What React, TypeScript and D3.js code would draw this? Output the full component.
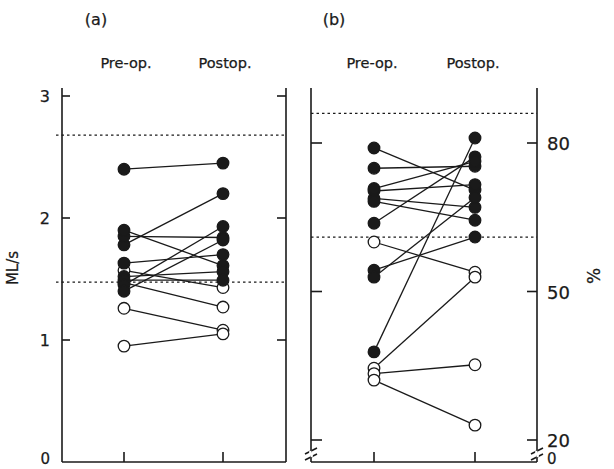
import React from "react";
import * as d3 from "d3";

// groups on the x axis
const phases = ["Pre-op.", "Postop."];

// panel (a): ML/s, [pre, post]
const mlFilled = [
  [2.4, 2.45],
  [1.78, 2.2],
  [1.85, 1.84],
  [1.9, 1.61],
  [1.63, 1.7],
  [1.52, 1.56],
  [1.49, 1.49],
  [1.45, 1.93],
  [1.4, 1.82],
];
const mlOpen = [
  [1.57, 1.43],
  [1.47, 1.27],
  [1.26, 1.08],
  [0.95, 1.05],
];
const mlRefs = [2.68, 1.475];
const mlTicks = [0, 1, 2, 3];

// panel (b): %, [pre, post]
const pctFilled = [
  [79, 70.5],
  [74.9, 75.3],
  [70.3, 71.6],
  [68.8, 67],
  [68.2, 64.4],
  [63.8, 77.2],
  [54.3, 61],
  [52.9, 69],
  [37.8, 81],
  [70.8, 76.3],
];
const pctOpen = [
  [60, 53.9],
  [34.5, 52.9],
  [33.4, 35.2],
  [32.1, 23],
];
const pctRefs = [86, 61];
const pctTicks = [20, 50, 80];

const FONT = "'DejaVu Sans', 'Liberation Sans', sans-serif";
const INK = "#1a1a1a";

const App = () => {
  const top = 88;
  const bottom = 462;

  // panel (a)
  const ax0 = 62, ax1 = 286;
  const xa = d3.scalePoint().domain(phases).range([124, 223]);
  const ya = d3.scaleLinear().domain([0, 3]).range([462, 96]);

  // panel (b)
  const bx0 = 311, bx1 = 537;
  const xb = d3.scalePoint().domain(phases).range([374, 475]);
  const yb = d3.scaleLinear().domain([20, 80]).range([440, 143]);

  const pairs = (data, x, y, filled) =>
    data.map((d, i) => (
      <line
        key={(filled ? "f" : "o") + i}
        x1={x(phases[0])}
        y1={y(d[0])}
        x2={x(phases[1])}
        y2={y(d[1])}
        stroke={INK}
        strokeWidth={1.3}
      />
    ));

  const dots = (data, x, y, filled) =>
    data.flatMap((d, i) =>
      d.map((v, j) => (
        <circle
          key={(filled ? "f" : "o") + i + "-" + j}
          cx={x(phases[j])}
          cy={y(v)}
          r={5.8}
          fill={filled ? INK : "#fff"}
          stroke={INK}
          strokeWidth={1.3}
        />
      ))
    );

  const label = { fill: INK, stroke: INK, strokeWidth: 0.25 };

  return (
    <svg
      width={614}
      height={469}
      style={{ position: "absolute", left: 0, top: 0, background: "#fff" }}
      fontFamily={FONT}
    >
      {/* titles */}
      <text x={96} y={25} fontSize={16} textAnchor="middle" {...label}>(a)</text>
      <text x={334} y={25} fontSize={16} textAnchor="middle" {...label}>(b)</text>
      {phases.map((p) => (
        <text key={"ta" + p} x={xa(p) + 2} y={68} fontSize={14.5} textAnchor="middle" {...label}>
          {p}
        </text>
      ))}
      {phases.map((p) => (
        <text key={"tb" + p} x={xb(p) - 2} y={68} fontSize={14.5} textAnchor="middle" {...label}>
          {p}
        </text>
      ))}

      {/* panel (a) frame */}
      <g stroke={INK} strokeWidth={1.6} fill="none">
        <line x1={ax0} y1={top} x2={ax0} y2={bottom} />
        <line x1={ax1} y1={top} x2={ax1} y2={bottom} />
        <line x1={ax0} y1={bottom} x2={ax1} y2={bottom} />
        {mlTicks.slice(1).map((t) => (
          <g key={"tka" + t}>
            <line x1={ax0} y1={ya(t)} x2={ax0 + 8} y2={ya(t)} />
            <line x1={ax1 - 9} y1={ya(t)} x2={ax1} y2={ya(t)} />
          </g>
        ))}
        {phases.map((p) => (
          <line key={"bta" + p} x1={xa(p)} y1={bottom} x2={xa(p)} y2={bottom - 10} />
        ))}
      </g>
      {mlTicks.map((t) => (
        <text
          key={"la" + t}
          x={ax0 - 12}
          y={Math.min(ya(t) + 6, 464)}
          fontSize={t === 0 ? 15 : 16}
          textAnchor="end"
          {...label}
        >
          {t}
        </text>
      ))}
      <text
        transform={`translate(18,268) rotate(-90)`}
        fontSize={15}
        textAnchor="middle"
        {...label}
      >
        ML/s
      </text>
      {mlRefs.map((r) => (
        <line
          key={"ra" + r}
          x1={ax0 - 6}
          x2={ax1}
          y1={ya(r)}
          y2={ya(r)}
          stroke={INK}
          strokeWidth={1.2}
          strokeDasharray="2.5,3"
        />
      ))}
      {pairs(mlFilled, xa, ya, true)}
      {pairs(mlOpen, xa, ya, false)}
      {dots(mlOpen, xa, ya, false)}
      {dots(mlFilled, xa, ya, true)}

      {/* panel (b) frame */}
      <g stroke={INK} strokeWidth={1.6} fill="none">
        <line x1={bx0} y1={top} x2={bx0} y2={bottom} />
        <line x1={bx1} y1={top} x2={bx1} y2={bottom} />
        <line x1={bx0} y1={bottom} x2={bx1} y2={bottom} />
        {pctTicks.map((t) => (
          <g key={"tkb" + t}>
            <line x1={bx0} y1={yb(t)} x2={bx0 + 11} y2={yb(t)} />
            <line x1={bx1 - 10} y1={yb(t)} x2={bx1} y2={yb(t)} />
          </g>
        ))}
        {phases.map((p) => (
          <line key={"btb" + p} x1={xb(p)} y1={bottom} x2={xb(p)} y2={bottom - 10} />
        ))}
        {/* axis breaks */}
        {[bx0, bx1].map((bx) => (
          <g key={"br" + bx}>
            <line x1={bx - 6} y1={454} x2={bx + 6} y2={448} />
            <line x1={bx - 6} y1={460} x2={bx + 6} y2={454} />
          </g>
        ))}
      </g>
      <line x1={bx0 - 1} y1={451} x2={bx0 + 1} y2={457} stroke="#fff" strokeWidth={2.5} />
      <line x1={bx1 - 1} y1={451} x2={bx1 + 1} y2={457} stroke="#fff" strokeWidth={2.5} />
      {pctTicks.map((t) => (
        <text key={"lb" + t} x={bx1 + 10} y={yb(t) + 7} fontSize={18} {...label}>
          {t}
        </text>
      ))}
      <text x={bx1 + 10} y={464} fontSize={15} {...label}>0</text>
      <text
        transform={`translate(600,276) rotate(-90)`}
        fontSize={17}
        textAnchor="middle"
        {...label}
      >
        %
      </text>
      {pctRefs.map((r) => (
        <line
          key={"rb" + r}
          x1={bx0}
          x2={bx1}
          y1={yb(r)}
          y2={yb(r)}
          stroke={INK}
          strokeWidth={1.2}
          strokeDasharray="2.5,3"
        />
      ))}
      {pairs(pctFilled, xb, yb, true)}
      {pairs(pctOpen, xb, yb, false)}
      {dots(pctOpen, xb, yb, false)}
      {dots(pctFilled, xb, yb, true)}
    </svg>
  );
};

export default App;
